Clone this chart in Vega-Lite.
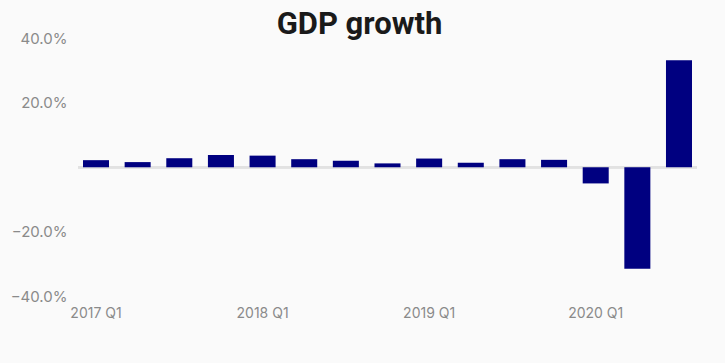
{
  "$schema": "https://vega.github.io/schema/vega-lite/v6.json",
  "autosize": {"type": "none"},
  "width": 619,
  "height": 265,
  "padding": {"left": 78, "top": 38, "right": 28, "bottom": 60},
  "background": "#fafafa",
  "title": {
    "text": "GDP growth",
    "font": "Roboto",
    "fontSize": 31,
    "fontWeight": "bold",
    "color": "#1a1a1a",
    "anchor": "middle",
    "frame": "group",
    "dx": -28,
    "baseline": "bottom",
    "offset": 0,
    "dy": 41
  },
  "data": {
    "values": [
      {"quarter": "2017 Q1", "growth": 2.2},
      {"quarter": "2017 Q2", "growth": 1.6},
      {"quarter": "2017 Q3", "growth": 2.8},
      {"quarter": "2017 Q4", "growth": 3.8},
      {"quarter": "2018 Q1", "growth": 3.6},
      {"quarter": "2018 Q2", "growth": 2.5},
      {"quarter": "2018 Q3", "growth": 2.0},
      {"quarter": "2018 Q4", "growth": 1.2},
      {"quarter": "2019 Q1", "growth": 2.7},
      {"quarter": "2019 Q2", "growth": 1.4},
      {"quarter": "2019 Q3", "growth": 2.5},
      {"quarter": "2019 Q4", "growth": 2.3},
      {"quarter": "2020 Q1", "growth": -5.0},
      {"quarter": "2020 Q2", "growth": -31.4},
      {"quarter": "2020 Q3", "growth": 33.1}
    ]
  },
  "config": {
    "view": {"stroke": null},
    "axis": {"labelFont": "Inter", "labelColor": "#8a8a8a", "labelFontSize": 14}
  },
  "layer": [
    {
      "mark": {"type": "rule", "color": "#e2e2e2", "strokeWidth": 2},
      "encoding": {"y": {"datum": 0}}
    },
    {
      "mark": {"type": "bar", "color": "#000080"},
      "encoding": {
        "x": {
          "field": "quarter",
          "type": "ordinal",
          "sort": null,
          "scale": {"paddingInner": 0.375, "paddingOuter": 0.12},
          "axis": {
            "title": null,
            "domain": false,
            "ticks": false,
            "labelAngle": 0,
            "labelPadding": 3,
            "labelExpr": "indexof(datum.value, 'Q1') >= 0 ? datum.value : ''"
          }
        },
        "y": {
          "field": "growth",
          "type": "quantitative",
          "scale": {"domain": [-42, 40], "nice": false, "zero": false},
          "axis": {
            "title": null,
            "domain": false,
            "ticks": false,
            "values": [-40, -20, 20, 40],
            "labelExpr": "format(datum.value, '.1f') + '%'",
            "labelFontSize": 15,
            "labelPadding": 11,
            "gridColor": "#ececec",
            "gridWidth": 2
          }
        }
      }
    }
  ]
}
